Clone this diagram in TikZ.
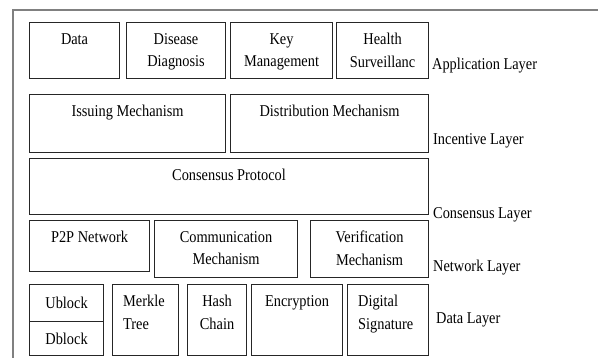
\documentclass[tikz,border=0pt]{standalone}
\usepackage{fontspec}
\setmainfont{Liberation Serif}[FakeStretch=0.87]
\usetikzlibrary{positioning}

\begin{document}
\begin{tikzpicture}[
        x=1pt, y=-1pt,
        font=\fontsize{16.5}{22.5}\selectfont,
        frame/.style={draw=black!50, line width=1.5pt},
        layer box/.style={rectangle, draw=black!85, line width=1.1pt, anchor=north west, inner sep=0pt},
        box text/.style={inner sep=0pt, align=center},
        layer label/.style={anchor=base west, inner sep=0pt}
    ]
        \useasboundingbox (0,0) rectangle (598,358);

        % Outer frame
        \draw[frame] (13,358) -- (13,10) -- (598,10);

        % Boxes with text at the top, centred
        \foreach \name/\x/\y/\w/\h/\txt in {
            data/29/22/90/56/Data,
            disease/126/22/99/56/{Disease\\Diagnosis},
            key/230/22/102/56/{Key\\Management},
            health/336/22/92/56/{Health\\Surveillanc},
            issuing/29/94/196/58/Issuing Mechanism,
            distribution/230/94/198/58/Distribution Mechanism,
            consensus/29/158/399/56/Consensus Protocol,
            p2p/29/220/120/51/P2P Network,
            communication/154/220/143/57/{Communication\\Mechanism},
            verification/310/220/118/57/{Verification\\Mechanism},
            hash/187/284/59/71/{Hash\\Chain},
            encryption/251/284/91/71/Encryption}
        {
            \node[layer box, minimum width=\w pt, minimum height=\h pt] (\name) at (\x,\y) {};
            \node[box text, anchor=north, below=11pt of \name.north] (\name-text) {\txt};
        }

        % Boxes with text at the top, flush left
        \foreach \name/\x/\y/\w/\h/\txt in {
            merkle/112/284/66/71/{Merkle\\Tree},
            signature/347/284/81/71/{Digital\\Signature}}
        {
            \node[layer box, minimum width=\w pt, minimum height=\h pt] (\name) at (\x,\y) {};
            \node[box text, align=left, below right=11pt and 11pt of \name.north west] (\name-text) {\txt};
        }

        % Block pair
        \node[layer box, minimum width=74pt, minimum height=37pt] (ublock) at (29,284) {Ublock};
        \node[layer box, minimum width=74pt, minimum height=34pt] (dblock) at (29,321) {Dblock};

        % Layer names
        \foreach \name/\x/\y/\txt in {
            application/432/70/Application Layer,
            incentive/433/145/Incentive Layer,
            consensus/433/219/Consensus Layer,
            network/433/272/Network Layer,
            data/436/324/Data Layer}
        {
            \node[layer label] (\name-layer) at (\x,\y) {\txt};
        }

\end{tikzpicture}
\end{document}
